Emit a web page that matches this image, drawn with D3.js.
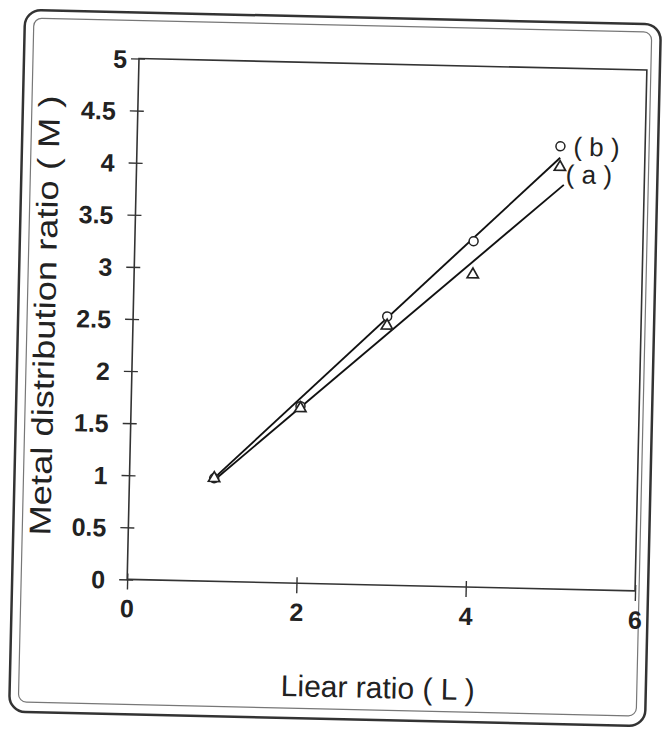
<!DOCTYPE html>
<html>
<head>
  <meta charset="utf-8">
  <script src="https://d3js.org/d3.v7.min.js"></script>
  <style>
    body{ margin:0; background:#fff; }
    text{ font-family:"Liberation Sans", Arial, sans-serif; fill:#222; }
    .tick-label{ font-size:25px; font-weight:bold; }
    .axis-title{ font-size:30px; }
    .series-label{ font-size:26px; }
  </style>
</head>
<body>
  <svg width="667" height="738" id="chart"></svg>
  <script>
    // data
    var linerRatio = [1, 2, 3, 4, 5];
    var seriesA = [0.99, 1.68, 2.49, 3.0, 4.05];   // (a) triangles
    var seriesB = [0.99, 1.70, 2.58, 3.32, 4.25];  // (b) circles
    var fitA = [[1, 0.97], [5.05, 3.88]];
    var fitB = [[1, 0.99], [5, 4.14]];
    var xTicks = [0, 2, 4, 6];
    var yTicks = [0, 0.5, 1, 1.5, 2, 2.5, 3, 3.5, 4, 4.5, 5];

    var svg = d3.select("svg#chart");
    // the scan is slightly tilted
    var g = svg.append("g").attr("transform", "rotate(1.3,333,369)");

    var pLeft = 132, pRight = 640, pTop = 63, pBottom = 584;
    var x = d3.scaleLinear().domain([0, 6]).range([pLeft, pRight]);
    var y = d3.scaleLinear().domain([0, 5]).range([pBottom, pTop]);

    //outer frame, double line
    g.append("rect")
      .attr("x", 17).attr("y", 17).attr("width", 636).attr("height", 702)
      .attr("rx", 16)
      .style("fill", "none").style("stroke", "#333").style("stroke-width", 2.5);
    g.append("rect")
      .attr("x", 26).attr("y", 25).attr("width", 618).attr("height", 684)
      .attr("rx", 8)
      .style("fill", "none").style("stroke", "#777").style("stroke-width", 1.2);

    //plot box
    g.append("rect")
      .attr("x", pLeft).attr("y", pTop)
      .attr("width", pRight - pLeft).attr("height", pBottom - pTop)
      .style("fill", "none").style("stroke", "#333").style("stroke-width", 1.6);

    //axes with crossing ticks
    var yAxis = d3.axisLeft(y).tickValues(yTicks).tickSize(0).tickFormat(d3.format("~g"));
    var xAxis = d3.axisBottom(x).tickValues(xTicks).tickSize(0).tickFormat(d3.format("d"));

    var ya = g.append("g").attr("transform", "translate(" + pLeft + ",0)").call(yAxis);
    ya.select(".domain").remove();
    ya.selectAll("text").attr("class", "tick-label")
      .attr("x", function(d){ return d === 5 ? -12 : -22; }).attr("dy", "0.36em");
    ya.selectAll(".tick").append("line")
      .attr("x1", -8).attr("x2", 6).style("stroke", "#333").style("stroke-width", 1.4);

    var xa = g.append("g").attr("transform", "translate(0," + pBottom + ")").call(xAxis);
    xa.select(".domain").remove();
    xa.selectAll("text").attr("class", "tick-label").attr("y", 20).attr("dy", "0.71em");
    xa.selectAll(".tick").append("line")
      .attr("y1", -6).attr("y2", 10).style("stroke", "#333").style("stroke-width", 1.4);

    //trend lines
    var line = d3.line().x(function(d){ return x(d[0]); }).y(function(d){ return y(d[1]); });
    [fitA, fitB].forEach(function(f){
      g.append("path").attr("d", line(f))
        .style("fill", "none").style("stroke", "#111").style("stroke-width", 1.9);
    });

    //markers
    g.selectAll("circle.b").data(linerRatio).enter().append("circle")
      .attr("class", "b")
      .attr("cx", function(d){ return x(d); })
      .attr("cy", function(d, i){ return y(seriesB[i]); })
      .attr("r", 4.5)
      .style("fill", "#fff").style("stroke", "#222").style("stroke-width", 1.5);

    var tri = d3.symbol().type(d3.symbolTriangle).size(55);
    g.selectAll("path.a").data(linerRatio).enter().append("path")
      .attr("class", "a")
      .attr("d", tri)
      .attr("transform", function(d, i){ return "translate(" + x(d) + "," + y(seriesA[i]) + ")"; })
      .style("fill", "#fff").style("stroke", "#222").style("stroke-width", 1.7);

    //series labels
    g.append("text").attr("class", "series-label")
      .attr("x", x(5) + 13).attr("y", y(seriesB[4]) + 9)
      .text("( b )");
    g.append("text").attr("class", "series-label")
      .attr("x", x(5) + 6).attr("y", y(seriesA[4]) + 16)
      .text("( a )");

    //axis titles
    g.append("text").attr("class", "axis-title")
      .attr("text-anchor", "middle")
      .attr("x", (pLeft + pRight) / 2 - 1).attr("y", 697)
      .text("Liear ratio ( L )");
    g.append("text").attr("class", "axis-title")
      .attr("text-anchor", "middle")
      .attr("textLength", 440).attr("lengthAdjust", "spacingAndGlyphs")
      .attr("transform", "translate(54,322) rotate(-90)")
      .text("Metal distribution ratio ( M )");
  </script>
</body>
</html>
